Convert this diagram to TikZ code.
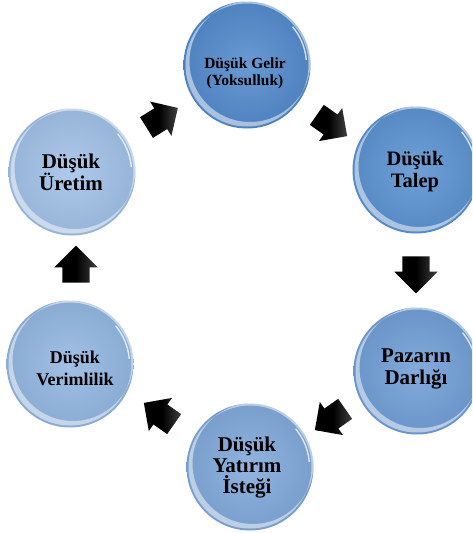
\documentclass[tikz,border=0pt]{standalone}
\usepackage{fontspec}
\setmainfont{Liberation Serif}
\usetikzlibrary{shapes.arrows}
\definecolor{cGelir}{RGB}{84,140,205}
\definecolor{cTalep}{RGB}{92,148,210}
\definecolor{cPazar}{RGB}{114,160,215}
\definecolor{cYatirim}{RGB}{130,170,219}
\definecolor{cVerim}{RGB}{148,184,226}
\definecolor{cUretim}{RGB}{162,194,232}
\tikzset{
  bubble/.style={circle, minimum size=127pt, inner sep=0pt,
    inner color=#1!88!white, outer color=#1!93!black, draw=none},
  label txt/.style={align=center, inner sep=0pt, font=\bfseries},
  blockarrow/.style={single arrow, draw=none, inner xsep=0pt, inner ysep=#1,
    single arrow head extend=8pt,
    left color=black, right color=black!75, middle color=black},
}
\newcommand\mybubble[4]{%
  \node[bubble=#4] (#1) at (#2,#3) {};
  \fill[white, opacity=.5, even odd rule] (#1.center) circle[radius=61.5pt]
     ([shift={(3pt,3.5pt)}]#1.center) circle[radius=60.5pt];
  \draw[white, opacity=.75, line width=1.4pt] ([shift={(5:59.5pt)}]#1.center) arc[start angle=5, end angle=40, radius=59.5pt];
}
\begin{document}
\begin{tikzpicture}[x=1pt,y=-1pt]
\useasboundingbox (0,0) rectangle (472,533);
\clip (0,0) rectangle (472,533);
\fill[white] (0,0) rectangle (472,533);
% circles
\mybubble{gelir}{247}{65}{cGelir}
\mybubble{talep}{416}{170}{cTalep}
\mybubble{pazar}{417}{371}{cPazar}
\mybubble{yatirim}{250}{467}{cYatirim}
\mybubble{verim}{70}{364}{cVerim}
\mybubble{uretim}{72}{172}{cUretim}
% texts
\node[label txt, font=\bfseries\fontsize{15.5}{17}\selectfont] (gelirT) at (245,73) {Düşük Gelir\\(Yoksulluk)};
\node[label txt, font=\bfseries\fontsize{20.5}{22}\selectfont] (talepT) at (415,172) {Düşük\\Talep};
\node[label txt, font=\bfseries\fontsize{21}{22}\selectfont] (pazarT) at (416,369) {Pazarın\\Darlığı};
\node[label txt, font=\bfseries\fontsize{21}{21}\selectfont] (yatirimT) at (247,468) {Düşük\\Yatırım\\İsteği};
\node[label txt, font=\bfseries\fontsize{18}{22}\selectfont] (verimT) at (75,368) {Düşük\\Verimlilik};
\node[label txt, font=\bfseries\fontsize{21}{22}\selectfont] (uretimT) at (71,172) {Düşük\\Üretim};
% arrows
\node[blockarrow=12pt, minimum height=37pt, rotate=32] (a1) at (157,121) {};
\node[blockarrow=12pt, minimum height=37pt, rotate=-35] (a2) at (327,122) {};
\node[blockarrow=13.5pt, minimum height=37pt, rotate=-90] (a3) at (416,268) {};
\node[blockarrow=12pt, minimum height=37pt, rotate=-145] (a4) at (335,416) {};
\node[blockarrow=12pt, minimum height=37pt, rotate=145] (a5) at (164,417) {};
\node[blockarrow=13.5pt, minimum height=37pt, rotate=90] (a6) at (76,271) {};
\end{tikzpicture}
\end{document}
